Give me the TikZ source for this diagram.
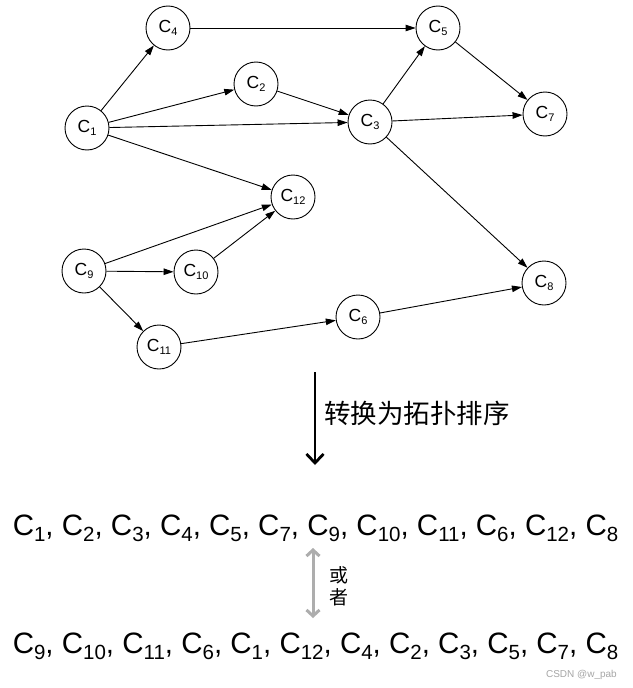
\documentclass[tikz,border=0pt]{standalone}
\usepackage{fontspec}
\setmainfont{Liberation Sans}
\newfontfamily\cjk{Noto Sans CJK SC}
\usetikzlibrary{arrows.meta}
\newcommand\nC[1]{C\raisebox{-3pt}{\fontsize{11}{11}\selectfont #1}}
\newcommand\lC[1]{C\raisebox{-5.5pt}{\fontsize{20.5}{20.5}\selectfont #1}}
\begin{document}
\begin{tikzpicture}[x=1pt,y=-1pt,
  vtx/.style={circle,draw,line width=0.9pt,minimum size=44pt,inner sep=0pt,font=\fontsize{17.5}{17.5}\selectfont},
  edge/.style={line width=0.9pt,-{Triangle[length=10pt,width=6.5pt]}},
  seq/.style={anchor=base,inner sep=0pt,font=\fontsize{29.5}{29.5}\selectfont},
  bigarrow/.style={line width=2.8pt,-{Straight Barb[length=9pt,width=17pt]}},
  altarrow/.style={line width=3pt,draw=black!32,{Straight Barb[length=6pt,width=13pt]}-{Straight Barb[length=6pt,width=13pt]}}]
\useasboundingbox (0,0) rectangle (632,688);
\fill[white] (0,0) rectangle (632,688);
% vertices
\node[vtx] (c1) at (87,128) {\nC{1}};
\node[vtx] (c2) at (256,84) {\nC{2}};
\node[vtx] (c3) at (370,122) {\nC{3}};
\node[vtx] (c4) at (168,28) {\nC{4}};
\node[vtx] (c5) at (438,28) {\nC{5}};
\node[vtx] (c6) at (358,317) {\nC{6}};
\node[vtx] (c7) at (545,114) {\nC{7}};
\node[vtx] (c8) at (544,283) {\nC{8}};
\node[vtx] (c9) at (84,271) {\nC{9}};
\node[vtx] (c10) at (196,272) {\nC{10}};
\node[vtx] (c11) at (159,347) {\nC{11}};
\node[vtx] (c12) at (293,197) {\nC{12}};
% edges
\draw[edge] (c1) -- (c4);
\draw[edge] (c1) -- (c2);
\draw[edge] (c1) -- (c3);
\draw[edge] (c1) -- (c12);
\draw[edge] (c4) -- (c5);
\draw[edge] (c2) -- (c3);
\draw[edge] (c3) -- (c5);
\draw[edge] (c3) -- (c7);
\draw[edge] (c3) -- (c8);
\draw[edge] (c5) -- (c7);
\draw[edge] (c9) -- (c12);
\draw[edge] (c9) -- (c10);
\draw[edge] (c9) -- (c11);
\draw[edge] (c10) -- (c12);
\draw[edge] (c11) -- (c6);
\draw[edge] (c6) -- (c8);
% conversion arrow
\coordinate (atop) at (315,372);
\coordinate (abot) at (315,465);
\draw[bigarrow] (atop) -- (abot);
\node[anchor=west,inner sep=0pt,font=\cjk\fontsize{26.5}{26.5}\selectfont] (conv) at (324,413) {转换为拓扑排序};
% sequences
\node[seq] (s1) at (315.5,535.5) {\lC{1}, \lC{2}, \lC{3}, \lC{4}, \lC{5}, \lC{7}, \lC{9}, \lC{10}, \lC{11}, \lC{6}, \lC{12}, \lC{8}};
\node[seq] (s2) at (315.5,653.5) {\lC{9}, \lC{10}, \lC{11}, \lC{6}, \lC{1}, \lC{12}, \lC{4}, \lC{2}, \lC{3}, \lC{5}, \lC{7}, \lC{8}};
\coordinate (btop) at (313,548);
\coordinate (bbot) at (313,618);
\draw[altarrow] (btop) -- (bbot);
\node[anchor=west,inner sep=0pt,align=center,font=\cjk\fontsize{19}{22}\selectfont] (or) at (329,586) {或\\者};
% watermark
\node[anchor=base east,inner sep=0pt,text=black!35,font=\fontsize{10}{10}\selectfont] (wm) at (617,677) {CSDN @w\_pab};
\end{tikzpicture}
\end{document}
